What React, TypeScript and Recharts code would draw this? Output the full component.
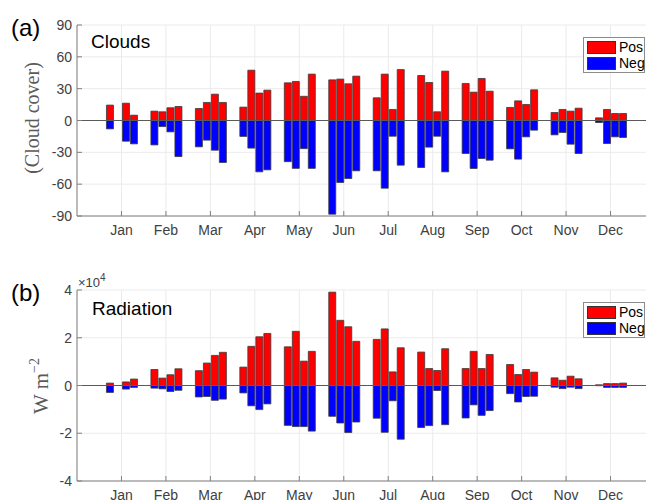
import React from 'react'
import { Bar, BarChart, CartesianGrid, ReferenceLine, XAxis, YAxis } from 'recharts'

const months = ['Jan', 'Feb', 'Mar', 'Apr', 'May', 'Jun', 'Jul', 'Aug', 'Sep', 'Oct', 'Nov', 'Dec']
const monthTicks = [1, 2, 3, 4, 5, 6, 7, 8, 9, 10, 11, 12]

// four weekly slots per month, null = no bar
const cloudPos = [
    14.5, null, 16.3, 5,
    8.8, 8.2, 12, 13.2,
    11.3, 17, 24.8, 17,
    12.6, 47.4, 25.8, 28.6,
    35.5, 36.8, 22.8, 43.7,
    38.3, 39, 34.6, 41.8,
    21.4, 43.7, 10.4, 48,
    42.4, 35.8, 8.2, 46.5,
    34.9, 26.7, 39.6, 27.6,
    12.3, 18.5, 15.1, 28.9,
    7.5, 10.4, 8.8, 11.6,
    2.5, 10.4, 6.6, 6.6,
]
const cloudNeg = [
    -7.9, null, -19.5, -22,
    -23, -5.7, -10.7, -34,
    -24.8, -18.5, -28, -39.6,
    -15, -26, -48.4, -46.5,
    -38.8, -45.1, -26.5, -45.1,
    -88.3, -58.4, -54.7, -47.4,
    -47.4, -63.8, -14.8, -42.1,
    -44.3, -25.1, -14.8, -48.4,
    -31.1, -45.2, -35.8, -37.4,
    -26.7, -36.4, -15.4, -9.1,
    -13.5, -11.3, -22.3, -31.1,
    -1.9, -21.7, -15.4, -16,
]
// radiation, in units of 10^4 W m^-2
const radPos = [
    0.10, null, 0.15, 0.27,
    0.67, 0.31, 0.45, 0.70,
    0.62, 0.94, 1.26, 1.39,
    0.77, 1.64, 2.04, 2.18,
    1.62, 2.27, 1.02, 1.43,
    3.91, 2.73, 2.46, 1.85,
    1.93, 2.37, 0.57, 1.58,
    1.40, 0.71, 0.63, 1.54,
    0.71, 1.43, 0.71, 1.30,
    0.88, 0.46, 0.67, 0.56,
    0.32, 0.22, 0.39, 0.28,
    0.03, 0.08, 0.08, 0.10,
]
const radNeg = [
    -0.29, null, -0.15, -0.08,
    -0.11, -0.14, -0.25, -0.20,
    -0.48, -0.46, -0.62, -0.57,
    -0.31, -0.85, -1.01, -0.77,
    -1.67, -1.72, -1.72, -1.91,
    -1.29, -1.57, -1.97, -1.53,
    -1.37, -1.96, -0.64, -2.25,
    -1.76, -1.68, -0.21, -1.64,
    -1.36, -0.81, -1.25, -1.05,
    -0.34, -0.69, -0.46, -0.45,
    -0.07, -0.13, -0.07, -0.13,
    -0.01, -0.08, -0.08, -0.08,
]
const cloudTicks = [-90, -60, -30, 0, 30, 60, 90]
const radTicks = [-4, -2, 0, 2, 4]

const buildRows = (pos: (number | null)[], neg: (number | null)[]) =>
    pos
        .map((p, i) => ({
            x: Math.floor(i / 4) + 1 + ((i % 4) - 1.5) * 0.18,
            pos: p,
            neg: neg[i],
        }))
        .filter((r) => r.pos !== null)

const AXIS = '#808080'
const TEXT = '#404040'
const FONT = '"Liberation Sans", Arial, sans-serif'

const BottomTick = (props: any) => {
    const { x, y, payload } = props
    return (
        <g>
            <line x1={x} x2={x} y1={y} y2={y - 5} stroke={AXIS} />
            <text x={x} y={y + 19} textAnchor="middle" fill={TEXT} fontSize={14} fontFamily={FONT}>
                {months[payload.value - 1]}
            </text>
        </g>
    )
}

const TopTick = (props: any) => {
    const { x, y } = props
    return <line x1={x} x2={x} y1={y} y2={y + 5} stroke={AXIS} />
}

const LeftTick = (props: any) => {
    const { x, y, payload } = props
    return (
        <g>
            <line x1={x} x2={x + 5} y1={y} y2={y} stroke={AXIS} />
            <text x={x - 5} y={y + 5} textAnchor="end" fill={TEXT} fontSize={14} fontFamily={FONT}>
                {payload.value}
            </text>
        </g>
    )
}

const LegendBox = ({ top }: { top: number }) => (
    <div
        style={{
            position: 'absolute',
            left: 583,
            top,
            width: 60,
            height: 34,
            border: '1px solid #8c8c8c',
            background: '#fff',
            fontFamily: FONT,
            fontSize: 14,
            color: '#000',
        }}
    >
        {[
            ['#ff0000', 'Pos'],
            ['#0000ff', 'Neg'],
        ].map(([c, t], i) => (
            <div key={t} style={{ position: 'absolute', left: 3, top: 2 + i * 16, height: 14, display: 'flex', alignItems: 'center' }}>
                <div style={{ width: 27, height: 11, background: c, border: '1px solid #333' }} />
                <span style={{ marginLeft: 3, lineHeight: '14px' }}>{t}</span>
            </div>
        ))}
    </div>
)

const Panel = ({ data, domain, ticks, top }: { data: any[]; domain: number[]; ticks: number[]; top: number }) => (
    <div style={{ position: 'absolute', left: 0, top }}>
        <BarChart width={700} height={250} data={data} stackOffset="sign" margin={{ top: 25, right: 45, bottom: 4, left: 0 }}>
            <CartesianGrid stroke="#ebebeb" />
            <XAxis
                dataKey="x"
                type="number"
                domain={[0, 13]}
                ticks={monthTicks}
                interval={0}
                height={30}
                tickSize={0}
                tickMargin={0}
                tick={<BottomTick />}
                axisLine={{ stroke: AXIS }}
                allowDataOverflow
            />
            <XAxis
                xAxisId="top"
                dataKey="x"
                type="number"
                orientation="top"
                domain={[0, 13]}
                ticks={monthTicks}
                interval={0}
                height={0}
                tickSize={0}
                tickMargin={0}
                tick={<TopTick />}
                axisLine={{ stroke: AXIS }}
                allowDataOverflow
            />
            <YAxis
                type="number"
                domain={domain}
                ticks={ticks}
                interval={0}
                width={77}
                tickSize={0}
                tickMargin={0}
                tick={<LeftTick />}
                axisLine={{ stroke: AXIS }}
                allowDataOverflow
            />
            <Bar dataKey="pos" stackId="s" barSize={7} fill="#ff0000" stroke="#3a3a3a" strokeWidth={0.8} isAnimationActive={false} />
            <Bar dataKey="neg" stackId="s" barSize={7} fill="#0000ff" stroke="#3a3a3a" strokeWidth={0.8} isAnimationActive={false} />
            <ReferenceLine y={0} stroke="#5a5a5a" />
        </BarChart>
    </div>
)

const App = () => {
    const cloudRows = buildRows(cloudPos, cloudNeg)
    const radRows = buildRows(radPos, radNeg)

    return (
        <div style={{ position: 'absolute', left: 0, top: 0, width: 646, height: 500, overflow: 'hidden', background: '#fff' }}>
            <Panel data={cloudRows} domain={[-90, 90]} ticks={cloudTicks} top={0} />
            <Panel data={radRows} domain={[-4, 4]} ticks={radTicks} top={265} />
            <LegendBox top={37} />
            <LegendBox top={302} />
            <svg width={646} height={500} style={{ position: 'absolute', left: 0, top: 0, pointerEvents: 'none' }}>
                <text x={11} y={36} fontSize={24} fontFamily={FONT} fill="#000">(a)</text>
                <text x={11} y={301} fontSize={24} fontFamily={FONT} fill="#000">(b)</text>
                <text x={91} y={48} fontSize={19} fontFamily={FONT} fill="#000">Clouds</text>
                <text x={92} y={315} fontSize={19} fontFamily={FONT} fill="#000">Radiation</text>
                <text x={78} y={287} fontSize={13} fontFamily={FONT} fill={TEXT}>
                    ×10
                    <tspan dy={-6} fontSize={10}>4</tspan>
                </text>
                <text
                    transform="translate(39,118) rotate(-90)"
                    textAnchor="middle"
                    fontSize={20}
                    fontFamily='"Liberation Serif", "Times New Roman", serif'
                    fill="#5a5a5a"
                >
                    (Cloud cover)
                </text>
                <text
                    transform="translate(48,386) rotate(-90)"
                    textAnchor="middle"
                    fontSize={21}
                    fontFamily='"Liberation Serif", "Times New Roman", serif'
                    fill="#5a5a5a"
                >
                    W m
                    <tspan dy={-9} fontSize={14}>−2</tspan>
                </text>
            </svg>
        </div>
    )
}

export default App
